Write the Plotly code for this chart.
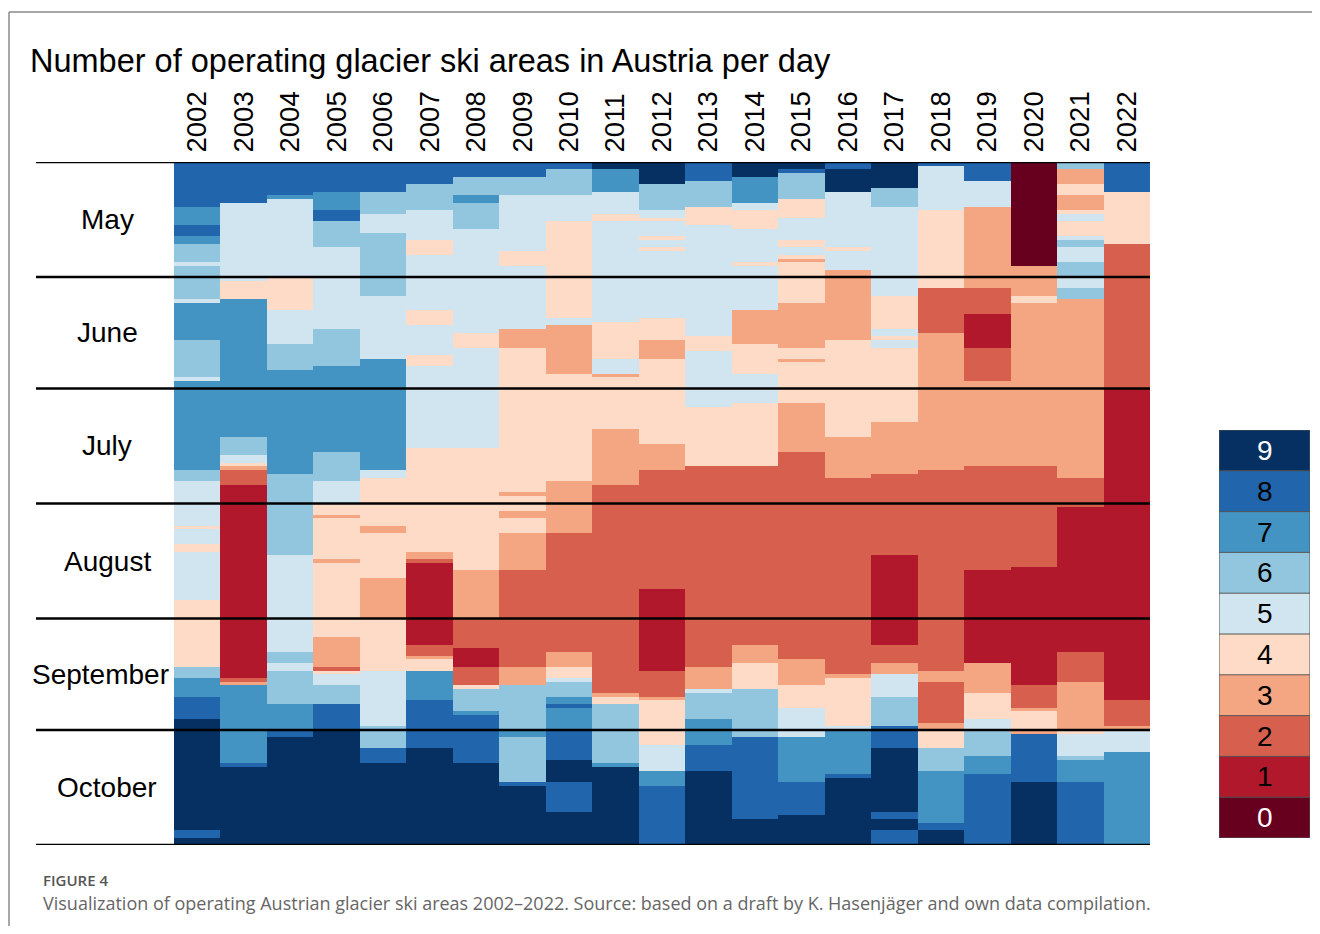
import numpy as np
import plotly.graph_objects as go

# ---------------- data ----------------
years = list(range(2002, 2023))
month_names = ["May", "June", "July", "August", "September", "October"]
month_days = [31, 30, 31, 31, 30, 31]
month_label_x = [107, 107, 107, 107, 100, 107]

level_values = list(range(10))
level_colors = ["#67001f", "#b2182b", "#d6604d", "#f4a582", "#fddbc7",
                "#d1e5f0", "#92c5de", "#4393c3", "#2166ac", "#053061"]
level_text_colors = ["white", "black", "black", "black", "black",
                     "black", "black", "black", "black", "white"]

# Each year: day index (0 = 1 May) where a run starts, and the number of open ski areas
starts_2002 = [0, 12, 17, 20, 22, 27, 28, 37, 38, 48, 58, 59, 83, 86, 98, 99, 103, 105, 118, 136, 139, 144, 150, 180, 182]
vals_2002 = [8, 7, 8, 7, 6, 5, 6, 5, 7, 6, 5, 7, 6, 5, 4, 5, 4, 5, 4, 6, 7, 8, 9, 8, 9]
starts_2003 = [0, 11, 32, 37, 74, 79, 81, 82, 83, 87, 139, 140, 141, 162, 163]
vals_2003 = [8, 5, 4, 7, 6, 5, 4, 3, 2, 1, 2, 3, 7, 8, 9]
starts_2004 = [0, 9, 10, 31, 40, 49, 56, 84, 106, 132, 135, 137, 146, 153, 155]
vals_2004 = [8, 7, 5, 4, 5, 6, 7, 6, 5, 6, 5, 6, 7, 8, 9]
starts_2005 = [0, 8, 13, 16, 23, 45, 55, 78, 86, 92, 95, 96, 107, 108, 128, 136, 137, 138, 141, 146, 153]
vals_2005 = [8, 7, 8, 6, 5, 6, 7, 6, 5, 4, 3, 4, 3, 4, 3, 2, 4, 5, 6, 8, 9]
starts_2006 = [0, 8, 14, 19, 36, 53, 83, 85, 98, 100, 112, 123, 137, 152, 158, 162]
vals_2006 = [8, 6, 5, 6, 5, 7, 5, 4, 3, 4, 3, 4, 5, 6, 8, 9]
starts_2007 = [0, 6, 13, 21, 25, 40, 44, 52, 55, 77, 105, 107, 108, 130, 133, 134, 137, 145, 158]
vals_2007 = [8, 6, 5, 4, 5, 4, 5, 4, 5, 4, 3, 2, 1, 2, 3, 4, 7, 8, 9]
starts_2008 = [0, 4, 9, 11, 18, 46, 50, 77, 110, 123, 131, 136, 141, 142, 148, 149, 162]
vals_2008 = [8, 6, 7, 6, 5, 4, 5, 4, 3, 2, 1, 2, 4, 6, 7, 8, 9]
starts_2009 = [0, 4, 9, 24, 28, 45, 50, 89, 90, 94, 96, 100, 110, 136, 141, 153, 155, 167, 168]
vals_2009 = [8, 6, 5, 4, 5, 3, 4, 3, 4, 3, 4, 3, 2, 3, 6, 7, 6, 8, 9]
starts_2010 = [0, 2, 9, 16, 42, 44, 57, 86, 100, 132, 136, 139, 140, 144, 146, 147, 153, 161, 167, 175]
vals_2010 = [8, 6, 5, 4, 5, 3, 4, 3, 2, 3, 4, 5, 6, 7, 8, 7, 8, 9, 8, 9]
starts_2011 = [0, 2, 8, 14, 16, 43, 53, 57, 58, 72, 87, 143, 144, 146, 162, 163]
vals_2011 = [9, 7, 5, 4, 5, 4, 5, 3, 4, 3, 2, 3, 4, 6, 7, 9]
starts_2012 = [0, 6, 13, 15, 16, 20, 21, 23, 24, 42, 48, 53, 76, 83, 115, 137, 144, 145, 157, 164, 168]
vals_2012 = [9, 6, 5, 4, 5, 4, 5, 4, 5, 4, 3, 4, 3, 2, 1, 2, 3, 4, 5, 7, 8]
starts_2013 = [0, 5, 12, 17, 47, 51, 66, 82, 136, 142, 143, 150, 157, 164]
vals_2013 = [8, 6, 4, 5, 4, 5, 4, 2, 3, 5, 6, 7, 8, 9]
starts_2014 = [0, 4, 11, 13, 18, 27, 28, 40, 49, 57, 65, 82, 130, 135, 142, 155, 177]
vals_2014 = [9, 7, 5, 4, 5, 4, 5, 3, 4, 5, 4, 2, 3, 4, 6, 8, 9]
starts_2015 = [0, 2, 3, 10, 15, 21, 23, 25, 26, 27, 38, 50, 53, 54, 65, 78, 134, 141, 147, 155, 167, 176]
vals_2015 = [9, 8, 6, 4, 5, 4, 5, 4, 3, 4, 3, 4, 3, 4, 3, 2, 3, 4, 5, 7, 8, 9]
starts_2016 = [0, 2, 8, 23, 24, 29, 48, 74, 85, 138, 139, 152, 153, 165, 166]
vals_2016 = [8, 9, 5, 4, 5, 3, 4, 3, 2, 3, 4, 5, 7, 8, 9]
starts_2017 = [0, 7, 12, 36, 45, 47, 48, 50, 70, 84, 106, 130, 135, 138, 144, 152, 158, 175, 177, 180]
vals_2017 = [9, 6, 5, 4, 5, 4, 5, 4, 3, 2, 1, 2, 3, 5, 6, 8, 9, 8, 9, 8]
starts_2018 = [0, 1, 13, 34, 46, 83, 137, 140, 151, 153, 158, 164, 178, 180]
vals_2018 = [8, 5, 4, 2, 3, 2, 3, 2, 3, 4, 6, 7, 8, 9]
starts_2019 = [0, 5, 12, 34, 41, 50, 59, 82, 110, 135, 143, 150, 153, 160, 165]
vals_2019 = [8, 5, 3, 2, 1, 2, 3, 2, 1, 3, 4, 5, 6, 7, 8]
starts_2020 = [0, 28, 36, 38, 82, 109, 141, 147, 148, 153, 154, 167]
vals_2020 = [0, 3, 4, 3, 2, 1, 2, 3, 4, 3, 8, 9]
starts_2021 = [0, 2, 6, 9, 13, 14, 16, 20, 21, 23, 27, 31, 34, 37, 85, 93, 132, 140, 153, 154, 160, 161, 167]
vals_2021 = [6, 3, 4, 3, 4, 5, 4, 5, 6, 5, 6, 5, 6, 3, 2, 1, 2, 3, 4, 5, 6, 7, 8]
starts_2022 = [0, 8, 22, 61, 145, 152, 153, 159]
vals_2022 = [8, 4, 2, 1, 2, 3, 5, 7]

title_text = "Number of operating glacier ski areas in Austria per day"
fig_label = "FIGURE 4"
caption_text = ("Visualization of operating Austrian glacier ski areas 2002\u20132022. "
                "Source: based on a draft by K. Hasenj\u00e4ger and own data compilation.")

# ---------------- build matrix ----------------
starts_by_year = [starts_2002, starts_2003, starts_2004, starts_2005, starts_2006, starts_2007,
                  starts_2008, starts_2009, starts_2010, starts_2011, starts_2012, starts_2013,
                  starts_2014, starts_2015, starts_2016, starts_2017, starts_2018, starts_2019,
                  starts_2020, starts_2021, starts_2022]
vals_by_year = [vals_2002, vals_2003, vals_2004, vals_2005, vals_2006, vals_2007,
                vals_2008, vals_2009, vals_2010, vals_2011, vals_2012, vals_2013,
                vals_2014, vals_2015, vals_2016, vals_2017, vals_2018, vals_2019,
                vals_2020, vals_2021, vals_2022]

n_days = sum(month_days)
z = np.zeros((n_days, len(years)))
for j, (st, vl) in enumerate(zip(starts_by_year, vals_by_year)):
    for i, s in enumerate(st):
        e = st[i + 1] if i + 1 < len(st) else n_days
        z[s:e, j] = vl[i]

bounds = np.concatenate([[0], np.cumsum(month_days)])

# page has an 8px body margin: figure drawn at (8, 8)
OFF = 8
W, H = 1320 - 2 * OFF, 934 - 2 * OFF


def px(x):
    return (x - OFF) / W


def py(y):
    return 1 - (y - OFF) / H


colorscale = []
for i, c in enumerate(level_colors):
    colorscale.append([i / 10, c])
    colorscale.append([(i + 1) / 10, c])

ARIAL = "Liberation Sans, Arial, sans-serif"

fig = go.Figure()
fig.add_trace(go.Heatmap(
    z=z, x=years, y=np.arange(n_days) + 0.5,
    colorscale=colorscale, zmin=-0.5, zmax=9.5, showscale=False,
    hoverinfo="skip", xaxis="x", yaxis="y"))
fig.add_trace(go.Heatmap(
    z=[[v] for v in level_values], x=[0], y=level_values,
    colorscale=colorscale, zmin=-0.5, zmax=9.5, showscale=False,
    hoverinfo="skip", xaxis="x2", yaxis="y2"))

shapes = []
for b in bounds:
    shapes.append(dict(type="line", xref="paper", yref="y", x0=px(36), x1=px(1150),
                       y0=b, y1=b, line=dict(color="black", width=2.5), layer="above"))
for v in level_values[:-1]:
    shapes.append(dict(type="line", xref="x2", yref="y2", x0=-0.5, x1=0.5,
                       y0=v + 0.5, y1=v + 0.5, line=dict(color="#555555", width=1), layer="above"))
shapes.append(dict(type="rect", xref="x2", yref="y2", x0=-0.5, x1=0.5, y0=-0.5, y1=9.5,
                   line=dict(color="#555555", width=1), layer="above"))
# figure frame
shapes.append(dict(type="line", xref="paper", yref="paper", x0=px(9), x1=1.0,
                   y0=py(12), y1=py(12), line=dict(color="#8a8a8a", width=1.5)))
shapes.append(dict(type="line", xref="paper", yref="paper", x0=px(9), x1=px(9),
                   y0=0, y1=py(12), line=dict(color="#8a8a8a", width=1.5)))

annotations = [dict(text=title_text, xref="paper", yref="paper", x=px(28), y=py(61),
                    xanchor="left", yanchor="middle", showarrow=False,
                    font=dict(family=ARIAL, size=32.5, color="black"))]
for name, lx, b0, b1 in zip(month_names, month_label_x, bounds[:-1], bounds[1:]):
    annotations.append(dict(text=name, xref="paper", yref="y", x=px(lx), y=(b0 + b1) / 2,
                            xanchor="center", yanchor="middle", showarrow=False,
                            font=dict(family=ARIAL, size=28, color="black")))
for v, tc in zip(level_values, level_text_colors):
    annotations.append(dict(text=str(v), xref="x2", yref="y2", x=0, y=v,
                            xanchor="center", yanchor="middle", showarrow=False,
                            font=dict(family=ARIAL, size=28, color=tc)))
annotations.append(dict(text=fig_label, xref="paper", yref="paper", x=px(41), y=py(880),
                        xanchor="left", yanchor="middle", showarrow=False,
                        font=dict(family="Open Sans, sans-serif", size=15, color="#555555", weight=600)))
annotations.append(dict(text=caption_text, xref="paper", yref="paper", x=px(41), y=py(903),
                        xanchor="left", yanchor="middle", showarrow=False,
                        font=dict(family="Open Sans, sans-serif", size=18, color="#666666")))

fig.update_layout(
    width=W, height=H, autosize=False,
    margin=dict(l=0, r=0, t=0, b=0),
    paper_bgcolor="white", plot_bgcolor="white",
    showlegend=False,
    xaxis=dict(domain=[px(174), px(1150)], range=[2001.5, 2022.5], side="top",
               tickvals=years, ticktext=[str(y) for y in years], tickangle=-90,
               tickfont=dict(family=ARIAL, size=27.5, color="black"),
               ticks="outside", ticklen=3, tickcolor="rgba(0,0,0,0)",
               showgrid=False, zeroline=False, showline=False, anchor="y", fixedrange=True),
    yaxis=dict(domain=[py(845), py(162)], range=[n_days, 0], showticklabels=False,
               showgrid=False, zeroline=False, showline=False, ticks="", anchor="x", fixedrange=True),
    xaxis2=dict(domain=[px(1219), px(1310)], range=[-0.5, 0.5], visible=False, anchor="y2"),
    yaxis2=dict(domain=[py(838), py(430)], range=[-0.5, 9.5], visible=False, anchor="x2"),
    shapes=shapes,
    annotations=annotations,
)

fig.write_html("out.html")
